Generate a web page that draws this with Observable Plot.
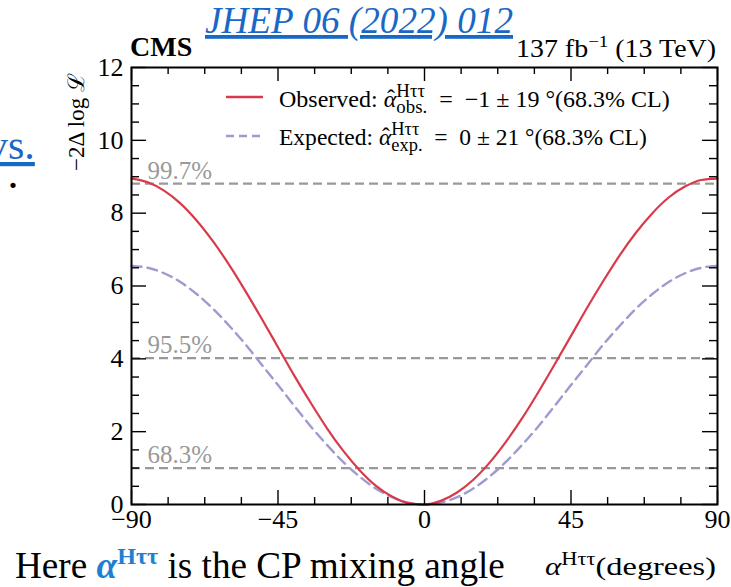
<!DOCTYPE html>
<html><head><meta charset="utf-8">
<script src="https://cdn.jsdelivr.net/npm/d3@7"></script>
<script src="https://cdn.jsdelivr.net/npm/@observablehq/plot@0.6"></script>
<style>
html,body{margin:0;padding:0;background:#fff;}
#chart{position:relative;width:731px;height:587px;overflow:hidden;}
svg text{white-space:pre;}
</style></head><body><div id="chart"></div>
<script>
// ---- data ----
const alpha = [-90,-85,-80,-75,-70,-65,-60,-55,-50,-45,-40,-35,-30,-25,-20,-15,-10,-5,0,5,10,15,20,25,30,35,40,45,50,55,60,65,70,75,80,85,90];
const observed = [8.95,8.85,8.62,8.27,7.80,7.23,6.58,5.86,5.10,4.32,3.54,2.80,2.10,1.48,0.95,0.52,0.22,0.04,0.00,0.10,0.33,0.68,1.15,1.72,2.37,3.09,3.85,4.63,5.41,6.15,6.85,7.47,8.00,8.43,8.73,8.91,8.95];
const expected = [6.55,6.50,6.35,6.11,5.78,5.38,4.91,4.40,3.84,3.28,2.71,2.15,1.64,1.17,0.77,0.44,0.20,0.05,0.00,0.05,0.20,0.44,0.77,1.17,1.64,2.15,2.71,3.28,3.84,4.40,4.91,5.38,5.78,6.11,6.35,6.50,6.55];
const clValues = [1.00, 4.02, 8.81];
const clLabels = ["68.3%", "95.5%", "99.7%"];
const xMajor = [-90, -45, 0, 45, 90];
const xMinor = [-78.75, -67.5, -56.25, -33.75, -22.5, -11.25, 11.25, 22.5, 33.75, 56.25, 67.5, 78.75];
const yMajor = [0, 2, 4, 6, 8, 10, 12];
const yMinor = [0.5, 1, 1.5, 2.5, 3, 3.5, 4.5, 5, 5.5, 6.5, 7, 7.5, 8.5, 9, 9.5, 10.5, 11, 11.5];

// ---- build tables ----
const obs = alpha.map((a, i) => ({a, v: observed[i]}));
const exp = alpha.map((a, i) => ({a, v: expected[i]}));
const cl = clValues.map((v, i) => ({v, label: clLabels[i]}));

const W = 731, H = 587, mL = 131, mR = 14, mT = 67, mB = 83;
const fw = W - mL - mR, fh = H - mT - mB;
const FONT = "'Liberation Serif', 'DejaVu Serif', serif";
const RED = "#d93a4b", LAV = "#9d9bd0", GRAY = "#999999", BLUE = "#1a68c6", LBLUE = "#1f7fd1";

const plot = Plot.plot({
  width: W, height: H,
  marginLeft: mL, marginRight: mR, marginTop: mT, marginBottom: mB,
  style: {fontFamily: FONT, background: "transparent", color: "black"},
  x: {domain: [-90, 90]},
  y: {domain: [0, 12]},
  marks: [
    Plot.ruleY(cl, {y: "v", stroke: GRAY, strokeWidth: 2.4, strokeDasharray: "9,5"}),
    Plot.text(cl, {y: "v", text: "label", frameAnchor: "left", textAnchor: "start", lineAnchor: "bottom", dx: 16, dy: -5, fill: GRAY, fontSize: 25}),
    Plot.line(exp, {x: "a", y: "v", stroke: LAV, strokeWidth: 2.4, strokeDasharray: "10,6", curve: "monotone-x"}),
    Plot.line(obs, {x: "a", y: "v", stroke: RED, strokeWidth: 2.2, curve: "monotone-x"}),
    // ticks, pointing inward on all four sides
    Plot.tickX(xMajor, {x: d => d, insetTop: fh - 14, stroke: "black", strokeWidth: 1.4}),
    Plot.tickX(xMajor, {x: d => d, insetBottom: fh - 14, stroke: "black", strokeWidth: 1.4}),
    Plot.tickX(xMinor, {x: d => d, insetTop: fh - 7, stroke: "black", strokeWidth: 1.4}),
    Plot.tickX(xMinor, {x: d => d, insetBottom: fh - 7, stroke: "black", strokeWidth: 1.4}),
    Plot.tickY(yMajor, {y: d => d, insetRight: fw - 15, stroke: "black", strokeWidth: 1.4}),
    Plot.tickY(yMajor, {y: d => d, insetLeft: fw - 15, stroke: "black", strokeWidth: 1.4}),
    Plot.tickY(yMinor, {y: d => d, insetRight: fw - 8, stroke: "black", strokeWidth: 1.4}),
    Plot.tickY(yMinor, {y: d => d, insetLeft: fw - 8, stroke: "black", strokeWidth: 1.4}),
    Plot.frame({stroke: "black", strokeWidth: 2}),
    Plot.axisX(xMajor, {tickSize: 0, tickPadding: 5, fontSize: 26, label: null}),
    Plot.axisY(yMajor, {tickSize: 0, tickPadding: 8, fontSize: 26, label: null})
  ]
});
document.getElementById("chart").appendChild(plot);
const svg = d3.select(plot);

// rich text helper: parts = [{t, size, dy, italic, bold, fill}] or {stack:[...]}
// optional target width stretches the whole run horizontally
function rich(x, y, parts, anchor = "start", target = null) {
  const g = svg.append("g").attr("font-family", FONT).attr("text-anchor", "start");
  let cx = 0;
  const add = (p, at) => {
    const t = g.append("text").attr("x", at + (p.dx || 0)).attr("y", p.dy || 0)
      .attr("text-anchor", "start")
      .attr("font-size", p.size).attr("fill", p.fill || "black")
      .attr("font-style", p.italic ? "italic" : "normal")
      .attr("font-weight", p.bold ? "bold" : "normal")
      .text(p.t);
    return p.noWidth ? 0 : t.node().getComputedTextLength();
  };
  for (const p of parts) {
    if (p.stack) {
      const ws = p.stack.map(s => add(s, cx));
      cx += Math.max(...ws);
    } else {
      cx += add(p, cx);
    }
  }
  const sx = target && cx > 0 ? target / cx : 1;
  const shift = anchor === "end" ? -cx * sx : anchor === "middle" ? -cx * sx / 2 : 0;
  g.attr("transform", `translate(${x + shift},${y}) scale(${sx},1)`);
  return g;
}

// title
svg.append("text").attr("x", 359).attr("y", 33).attr("text-anchor", "middle")
  .attr("font-family", FONT).attr("font-style", "italic").attr("font-size", 38)
  .attr("fill", BLUE).attr("text-decoration", "underline")
  .attr("textLength", 308).attr("lengthAdjust", "spacingAndGlyphs")
  .text("JHEP 06 (2022) 012");

// CMS / lumi
svg.append("text").attr("x", 130).attr("y", 56).attr("font-family", FONT).attr("text-anchor", "start")
  .attr("font-weight", "bold").attr("font-size", 28).text("CMS");
rich(716, 57, [
  {t: "137 fb", size: 25},
  {t: "−1", size: 17, dy: -10},
  {t: " (13 TeV)", size: 25}
], "end", 200);

// y label
svg.append("text").attr("transform", "translate(84,122) rotate(-90)")
  .attr("text-anchor", "middle").attr("font-family", FONT).attr("font-size", 23)
  .text("−2Δ log ℒ");

// legend
svg.append("line").attr("x1", 226).attr("x2", 263).attr("y1", 97).attr("y2", 97)
  .attr("stroke", RED).attr("stroke-width", 2.4);
svg.append("line").attr("x1", 226).attr("x2", 263).attr("y1", 136).attr("y2", 136)
  .attr("stroke", LAV).attr("stroke-width", 2.4).attr("stroke-dasharray", "8,5");
const hatAlpha = () => ({stack: [
  {t: "α", size: 23, italic: true},
  {t: "ˆ", size: 23, dx: 3, dy: -1, noWidth: true}
]});
rich(279, 107, [
  {t: "Observed: ", size: 23},
  hatAlpha(),
  {stack: [{t: "Hττ", size: 18, dy: -10}, {t: "obs.", size: 18, dy: 6}]},
  {t: "  =  −1 ± 19 °(68.3% CL)", size: 23}
], "start", 391);
rich(279, 145, [
  {t: "Expected: ", size: 23},
  hatAlpha(),
  {stack: [{t: "Hττ", size: 18, dy: -10}, {t: "exp.", size: 18, dy: 6}]},
  {t: "  =  0 ± 21 °(68.3% CL)", size: 23}
], "start", 368);

// x label
rich(716, 575, [
  {t: "α", size: 25, italic: true},
  {t: "Hττ", size: 18, dy: -10},
  {t: "(degrees)", size: 26}
], "end", 171);

// slide text around the figure
rich(15, 578, [
  {t: "Here ", size: 37},
  {t: "α", size: 37, italic: true, bold: true, fill: LBLUE},
  {t: "Hττ", size: 24, dy: -14, bold: true, fill: LBLUE},
  {t: " is the CP mixing angle", size: 37}
], "start", 490);
svg.append("text").attr("x", -13).attr("y", 159).attr("font-family", FONT).attr("text-anchor", "start")
  .attr("font-size", 42).attr("fill", BLUE).attr("text-decoration", "underline").text("vs.");
svg.append("text").attr("x", 9).attr("y", 188).attr("font-family", FONT).attr("text-anchor", "start")
  .attr("font-size", 32).attr("font-weight", "bold").attr("fill", "black").text(".");
</script></body></html>
